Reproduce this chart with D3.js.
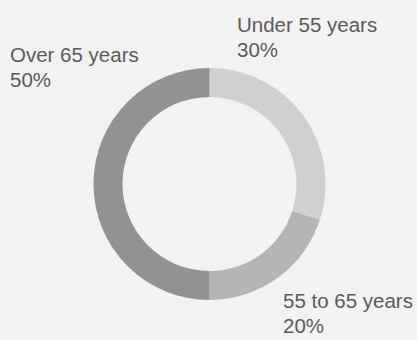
<!DOCTYPE html>
<html>
<head>
<meta charset="utf-8">
<script src="https://cdn.jsdelivr.net/npm/d3@7"></script>
<style>
  html, body { margin: 0; padding: 0; background: #f2f2f2; }
  svg { display: block; }
</style>
</head>
<body>
<div id="chart"></div>
<script>
// age groups, clockwise from 12 o'clock
var categories = ['Under 55 years', '55 to 65 years', 'Over 65 years'];
var values = [30, 20, 50];
var valueLabels = ['30%', '20%', '50%'];
var colors = ['#d1cfd1', '#b6b4b7', '#939194'];

var width = 417, height = 340;
var cx = 209.5, cy = 184;
var outerR = 116, innerR = 87;

var svg = d3.select('#chart')
    .append('svg')
    .attr('width', width)
    .attr('height', height);

svg.append('rect')
    .attr('width', width)
    .attr('height', height)
    .attr('fill', '#f2f2f2');

var pie = d3.pie().sort(null).value(function(d) { return d; });
var arc = d3.arc().innerRadius(innerR).outerRadius(outerR);

var color = d3.scaleOrdinal().domain(categories).range(colors);

var g = svg.append('g').attr('transform', 'translate(' + cx + ',' + cy + ')');

g.selectAll('path')
    .data(pie(values))
    .enter()
    .append('path')
    .attr('d', arc)
    .attr('fill', function(d, i) { return color(categories[i]); });

// label anchors (left edge, baseline of first line)
var labelPos = [
    { x: 237, y: 32 },
    { x: 283, y: 308 },
    { x: 10, y: 62 }
];

var labels = svg.append('g')
    .style('font-family', 'Arial, "Liberation Sans", sans-serif')
    .style('font-size', '20.5px')
    .attr('fill', '#5a5a5a');

categories.forEach(function(c, i) {
    var t = labels.append('text')
        .attr('x', labelPos[i].x)
        .attr('y', labelPos[i].y);
    t.append('tspan').attr('x', labelPos[i].x).text(c);
    t.append('tspan').attr('x', labelPos[i].x).attr('dy', 25).text(valueLabels[i]);
});
</script>
</body>
</html>
